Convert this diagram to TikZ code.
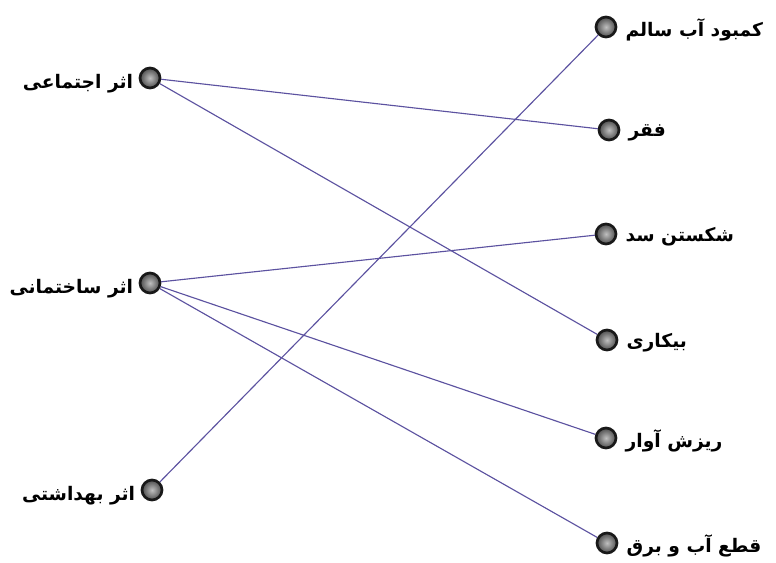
\documentclass[tikz,border=0pt]{standalone}
\usepackage{fontspec}
\newfontfamily\farsi[Script=Arabic]{DejaVu Sans}
\TeXXeTstate=1
\definecolor{linkblue}{RGB}{92,82,160}
\begin{document}
\begin{tikzpicture}[x=0.75pt,y=-0.75pt,
  dot/.style={circle, minimum size=15pt, inner sep=0pt, draw=black!90, line width=2pt, inner color=gray!50, outer color=black!70},
  lbl/.style={font=\farsi\bfseries\fontsize{14}{16}\selectfont, inner sep=0pt},
  link/.style={linkblue, line width=0.85pt}]
\useasboundingbox (0,0) rectangle (776,563);
% left column
\node[dot] (ejt) at (150,78) {};
\node[dot] (sakh) at (150,283) {};
\node[dot] (behd) at (152,490) {};
\node[lbl, anchor=east] at ([xshift=-4pt,yshift=-4pt]ejt.west) {\beginR اثر اجتماعی\endR};
\node[lbl, anchor=east] at ([xshift=-4pt,yshift=-4pt]sakh.west) {\beginR اثر ساختمانی\endR};
\node[lbl, anchor=east] at ([xshift=-4pt,yshift=-4pt]behd.west) {\beginR اثر بهداشتی\endR};
% right column
\node[dot] (kamb) at (606,27) {};
\node[dot] (faqr) at (609,130) {};
\node[dot] (shek) at (606,234) {};
\node[dot] (bika) at (607,340) {};
\node[dot] (rize) at (606,438) {};
\node[dot] (qat) at (607,543) {};
\node[lbl, anchor=west] at ([xshift=6pt,yshift=-2pt]kamb.east) {\beginR کمبود آب سالم\endR};
\node[lbl, anchor=west] at ([xshift=6pt,yshift=-2pt]faqr.east) {\beginR فقر\endR};
\node[lbl, anchor=west] at ([xshift=6pt,yshift=-2pt]shek.east) {\beginR شکستن سد\endR};
\node[lbl, anchor=west] at ([xshift=6pt,yshift=-2pt]bika.east) {\beginR بیکاری\endR};
\node[lbl, anchor=west] at ([xshift=6pt,yshift=-2pt]rize.east) {\beginR ریزش آوار\endR};
\node[lbl, anchor=west] at ([xshift=6pt,yshift=-2pt]qat.east) {\beginR قطع آب و برق\endR};
% links
\draw[link] (ejt) -- (faqr);
\draw[link] (ejt) -- (bika);
\draw[link] (sakh) -- (shek);
\draw[link] (sakh) -- (rize);
\draw[link] (sakh) -- (qat);
\draw[link] (behd) -- (kamb);
\end{tikzpicture}
\end{document}
